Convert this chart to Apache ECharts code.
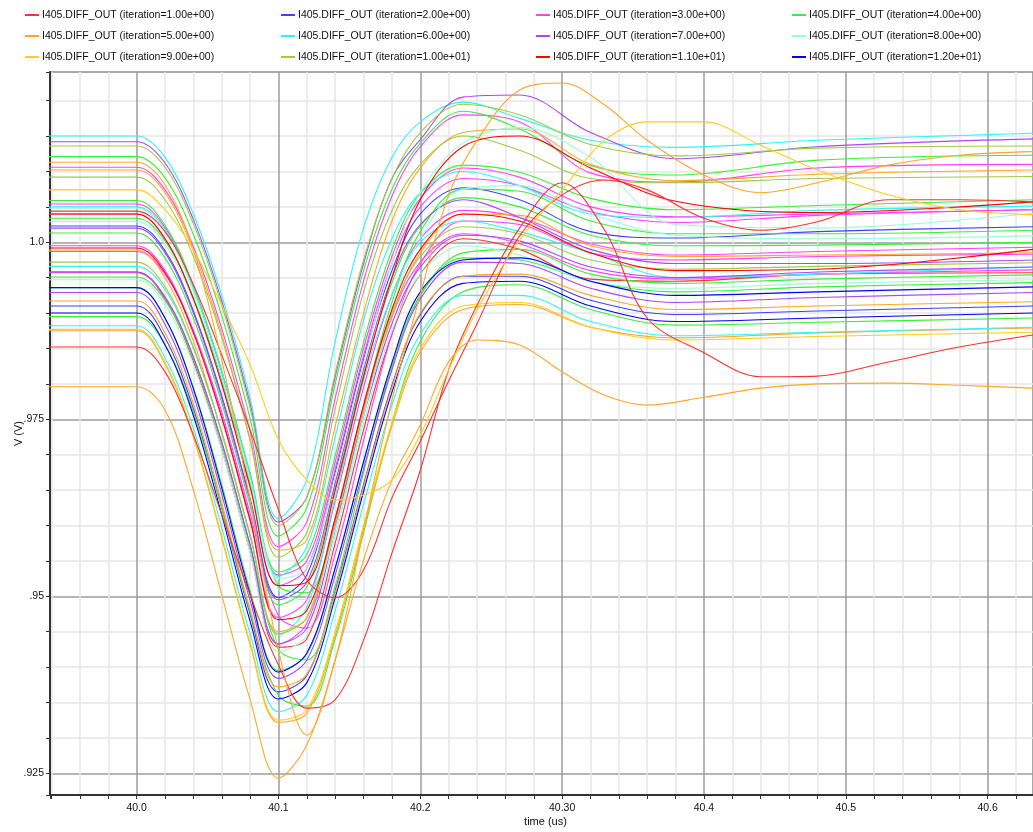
<!DOCTYPE html>
<html><head><meta charset="utf-8">
<script src="https://cdn.jsdelivr.net/npm/echarts@6/dist/echarts.min.js"></script>
<style>html,body{margin:0;padding:0;background:#fff}#c{width:1033px;height:832px}</style>
</head><body><div id="c"></div>
<script>
// ---- time grids (us) ----
const times = [39.938, 40.00, 40.02, 40.04, 40.06, 40.08, 40.10, 40.12, 40.14, 40.16, 40.18, 40.20, 40.23, 40.27, 40.32, 40.38, 40.48, 40.632];
const slowTimes = [39.938, 40.0, 40.02, 40.04, 40.06, 40.08, 40.10, 40.12, 40.14, 40.16, 40.18, 40.20, 40.22, 40.24, 40.27, 40.30, 40.33, 40.36, 40.40, 40.44, 40.48, 40.53, 40.58, 40.632];

// ---- legend / iteration names ----
const iterNames = [
  'I405.DIFF_OUT (iteration=1.00e+00)', 'I405.DIFF_OUT (iteration=2.00e+00)',
  'I405.DIFF_OUT (iteration=3.00e+00)', 'I405.DIFF_OUT (iteration=4.00e+00)',
  'I405.DIFF_OUT (iteration=5.00e+00)', 'I405.DIFF_OUT (iteration=6.00e+00)',
  'I405.DIFF_OUT (iteration=7.00e+00)', 'I405.DIFF_OUT (iteration=8.00e+00)',
  'I405.DIFF_OUT (iteration=9.00e+00)', 'I405.DIFF_OUT (iteration=1.00e+01)',
  'I405.DIFF_OUT (iteration=1.10e+01)', 'I405.DIFF_OUT (iteration=1.20e+01)'
];

// ---- tick labels ----
const xTickValues = [40.0, 40.1, 40.2, 40.3, 40.4, 40.5, 40.6];
const xTickLabels = ['40.0', '40.1', '40.2', '40.30', '40.4', '40.5', '40.6'];
const yTickValues = [0.925, 0.95, 0.975, 1.0];
const yTickLabels = ['.925', '.95', '.975', '1.0'];

// ---- waveforms (V) on "times" ----
const iter01 = [
  [0.9958, 0.9958, 0.9920, 0.9832, 0.9708, 0.9563, 0.9428, 0.9440, 0.9575, 0.9735, 0.9870, 0.9955, 1.0005, 0.9990, 0.9948, 0.9945, 0.9955, 0.9957]
];
const iter02 = [
  [1.0023, 1.0023, 0.9988, 0.9903, 0.9783, 0.9638, 0.9498, 0.9530, 0.9675, 0.9835, 0.9960, 1.0040, 1.0077, 1.0060, 1.0015, 1.0006, 1.0015, 1.0022],
  [0.9910, 0.9910, 0.9865, 0.9765, 0.9625, 0.9475, 0.9365, 0.9388, 0.9508, 0.9658, 0.9798, 0.9898, 0.9952, 0.9952, 0.9918, 0.9898, 0.9903, 0.9910]
];
const iter03 = [
  [1.0106, 1.0106, 1.0074, 0.9994, 0.9878, 0.9733, 0.9570, 0.9605, 0.9780, 0.9945, 1.0065, 1.0135, 1.0180, 1.0170, 1.0098, 1.0085, 1.0105, 1.0110],
  [1.0054, 1.0054, 1.0021, 0.9936, 0.9816, 0.9671, 0.9530, 0.9550, 0.9690, 0.9850, 0.9980, 1.0062, 1.0105, 1.0092, 1.0050, 1.0036, 1.0040, 1.0046],
  [1.0040, 1.0040, 1.0005, 0.9920, 0.9800, 0.9655, 0.9515, 0.9540, 0.9680, 0.9840, 0.9970, 1.0050, 1.0090, 1.0080, 1.0043, 1.0028, 1.0038, 1.0046],
  [0.9995, 0.9995, 0.9960, 0.9875, 0.9755, 0.9610, 0.9470, 0.9495, 0.9635, 0.9795, 0.9925, 1.0005, 1.0045, 1.0035, 0.9998, 0.9982, 0.9987, 0.9993],
  [0.9987, 0.9987, 0.9955, 0.9875, 0.9760, 0.9617, 0.9472, 0.9455, 0.9560, 0.9720, 0.9870, 0.9970, 1.0030, 1.0025, 0.9985, 0.9975, 0.9980, 0.9983],
  [0.9957, 0.9957, 0.9922, 0.9837, 0.9717, 0.9572, 0.9432, 0.9462, 0.9605, 0.9765, 0.9895, 0.9972, 1.0012, 0.9998, 0.9960, 0.9948, 0.9955, 0.9961]
];
const iter04 = [
  [1.0121, 1.0121, 1.0091, 1.0011, 0.9896, 0.9751, 0.9585, 0.9625, 0.9800, 0.9960, 1.0075, 1.0140, 1.0185, 1.0160, 1.0108, 1.0095, 1.0116, 1.0123],
  [1.0059, 1.0059, 1.0024, 0.9939, 0.9819, 0.9674, 0.9534, 0.9559, 0.9699, 0.9859, 0.9989, 1.0069, 1.0109, 1.0099, 1.0062, 1.0046, 1.0052, 1.0060],
  [1.0034, 1.0034, 1.0002, 0.9922, 0.9805, 0.9660, 0.9515, 0.9505, 0.9610, 0.9770, 0.9915, 1.0015, 1.0075, 1.0072, 1.0030, 1.0012, 1.0012, 1.0017],
  [1.0013, 1.0013, 0.9978, 0.9893, 0.9773, 0.9628, 0.9488, 0.9513, 0.9653, 0.9813, 0.9943, 1.0023, 1.0063, 1.0050, 1.0010, 0.9995, 0.9996, 1.0000],
  [0.9951, 0.9951, 0.9918, 0.9835, 0.9715, 0.9570, 0.9425, 0.9410, 0.9515, 0.9675, 0.9825, 0.9925, 0.9985, 0.9990, 0.9955, 0.9942, 0.9948, 0.9954],
  [0.9936, 0.9936, 0.9892, 0.9795, 0.9658, 0.9508, 0.9395, 0.9418, 0.9540, 0.9690, 0.9825, 0.9925, 0.9978, 0.9975, 0.9945, 0.9930, 0.9937, 0.9943],
  [0.9895, 0.9895, 0.9855, 0.9760, 0.9625, 0.9478, 0.9360, 0.9345, 0.9440, 0.9590, 0.9745, 0.9860, 0.9930, 0.9940, 0.9905, 0.9883, 0.9887, 0.9893]
];
const iter05 = [
  [1.0102, 1.0102, 1.0070, 0.9988, 0.9870, 0.9722, 0.9565, 0.9580, 0.9740, 0.9900, 1.0030, 1.0105, 1.0155, 1.0160, 1.0110, 1.0087, 1.0096, 1.0102],
  [0.9989, 0.9989, 0.9950, 0.9860, 0.9730, 0.9585, 0.9450, 0.9470, 0.9600, 0.9760, 0.9895, 0.9985, 1.0040, 1.0038, 0.9995, 0.9980, 0.9982, 0.9985],
  [0.9917, 0.9917, 0.9872, 0.9772, 0.9632, 0.9482, 0.9372, 0.9390, 0.9505, 0.9655, 0.9795, 0.9900, 0.9952, 0.9955, 0.9925, 0.9905, 0.9910, 0.9916],
  [0.9875, 0.9875, 0.9828, 0.9725, 0.9582, 0.9432, 0.9322, 0.9335, 0.9445, 0.9595, 0.9740, 0.9845, 0.9905, 0.9912, 0.9880, 0.9865, 0.9872, 0.9879]
];
const iter06 = [
  [1.0150, 1.0150, 1.0120, 1.0040, 0.9925, 0.9780, 0.9610, 0.9665, 0.9860, 1.0020, 1.0120, 1.0170, 1.0198, 1.0175, 1.0144, 1.0134, 1.0144, 1.0154],
  [1.0050, 1.0050, 1.0018, 0.9935, 0.9818, 0.9670, 0.9528, 0.9570, 0.9725, 0.9890, 1.0005, 1.0070, 1.0100, 1.0080, 1.0040, 1.0035, 1.0045, 1.0051],
  [0.9966, 0.9966, 0.9933, 0.9850, 0.9732, 0.9585, 0.9445, 0.9485, 0.9640, 0.9805, 0.9925, 1.0000, 1.0030, 1.0015, 0.9985, 0.9950, 0.9955, 0.9965],
  [0.9882, 0.9882, 0.9837, 0.9737, 0.9597, 0.9447, 0.9337, 0.9360, 0.9480, 0.9630, 0.9770, 0.9870, 0.9925, 0.9925, 0.9888, 0.9868, 0.9873, 0.9880]
];
const iter07 = [
  [1.0142, 1.0142, 1.0112, 1.0032, 0.9917, 0.9772, 0.9605, 0.9640, 0.9810, 0.9970, 1.0090, 1.0145, 1.0205, 1.0208, 1.0155, 1.0118, 1.0135, 1.0146],
  [1.0020, 1.0020, 0.9985, 0.9900, 0.9780, 0.9635, 0.9495, 0.9520, 0.9660, 0.9820, 0.9950, 1.0025, 1.0060, 1.0035, 0.9990, 0.9970, 0.9970, 0.9975],
  [0.9958, 0.9958, 0.9923, 0.9838, 0.9718, 0.9573, 0.9433, 0.9455, 0.9595, 0.9755, 0.9885, 0.9965, 1.0010, 1.0002, 0.9965, 0.9950, 0.9958, 0.9965],
  [0.9929, 0.9929, 0.9884, 0.9784, 0.9644, 0.9494, 0.9384, 0.9410, 0.9530, 0.9680, 0.9820, 0.9920, 0.9972, 0.9970, 0.9935, 0.9915, 0.9922, 0.9929]
];
const iter08 = [
  [1.0048, 1.0048, 1.0015, 0.9930, 0.9810, 0.9665, 0.9525, 0.9540, 0.9670, 0.9830, 0.9970, 1.0070, 1.0140, 1.0162, 1.0120, 1.0025, 1.0020, 1.0041],
  [1.0029, 1.0029, 0.9997, 0.9917, 0.9800, 0.9657, 0.9510, 0.9495, 0.9595, 0.9755, 0.9905, 1.0005, 1.0075, 1.0080, 1.0040, 1.0010, 1.0005, 1.0009],
  [0.9947, 0.9947, 0.9912, 0.9827, 0.9707, 0.9562, 0.9422, 0.9445, 0.9585, 0.9745, 0.9875, 0.9955, 0.9995, 0.9982, 0.9945, 0.9935, 0.9942, 0.9947]
];
const iter09 = [
  [0.9877, 0.9877, 0.9830, 0.9728, 0.9585, 0.9435, 0.9325, 0.9340, 0.9450, 0.9600, 0.9745, 0.9850, 0.9910, 0.9915, 0.9880, 0.9862, 0.9867, 0.9873]
];
const iter10 = [
  [1.0136, 1.0136, 1.0106, 1.0026, 0.9911, 0.9766, 0.9600, 0.9640, 0.9815, 0.9975, 1.0090, 1.0155, 1.0195, 1.0180, 1.0138, 1.0122, 1.0133, 1.0136],
  [1.0092, 1.0092, 1.0060, 0.9980, 0.9865, 0.9720, 0.9555, 0.9590, 0.9765, 0.9930, 1.0045, 1.0110, 1.0150, 1.0130, 1.0090, 1.0084, 1.0090, 1.0093],
  [0.9972, 0.9972, 0.9937, 0.9852, 0.9732, 0.9587, 0.9447, 0.9470, 0.9610, 0.9770, 0.9900, 0.9980, 1.0022, 1.0012, 0.9975, 0.9962, 0.9966, 0.9971]
];
const iter11 = [
  [1.0040, 1.0040, 1.0005, 0.9920, 0.9800, 0.9655, 0.9515, 0.9520, 0.9650, 0.9810, 0.9950, 1.0060, 1.0135, 1.0150, 1.0105, 1.0058, 1.0042, 1.0057],
  [0.9992, 0.9992, 0.9957, 0.9872, 0.9752, 0.9607, 0.9467, 0.9480, 0.9610, 0.9770, 0.9905, 0.9990, 1.0040, 1.0030, 0.9985, 0.9960, 0.9962, 0.9990]
];
const iter12 = [
  [0.9936, 0.9936, 0.9893, 0.9793, 0.9653, 0.9503, 0.9393, 0.9420, 0.9540, 0.9690, 0.9830, 0.9930, 0.9975, 0.9978, 0.9945, 0.9925, 0.9930, 0.9937],
  [0.9900, 0.9900, 0.9855, 0.9755, 0.9615, 0.9465, 0.9355, 0.9378, 0.9498, 0.9648, 0.9788, 0.9888, 0.9942, 0.9945, 0.9910, 0.9888, 0.9893, 0.9900]
];

// ---- slower / outlying waveforms (V) on "slowTimes" ----
const slowRed    = [0.9852, 0.9852, 0.9817, 0.9728, 0.9615, 0.9502, 0.9403, 0.9342, 0.9354, 0.9438, 0.9561, 0.9678, 0.9820, 0.9911, 1.0020, 1.0084, 1.0017, 0.9893, 0.9844, 0.9810, 0.9811, 0.9831, 0.9852, 0.9869];
const lateRed    = [1.0044, 1.0044, 1.0015, 0.9940, 0.9841, 0.9735, 0.9622, 0.9523, 0.9498, 0.9537, 0.9639, 0.9719, 0.9804, 0.9885, 1.0009, 1.0067, 1.0088, 1.0074, 1.0034, 1.0017, 1.0029, 1.0060, 1.0060, 1.0057];
const slowOrange = [1.0113, 1.0113, 1.0081, 0.9989, 0.9834, 0.9636, 0.9424, 0.9304, 0.9410, 0.9594, 0.9777, 0.9926, 1.0067, 1.0144, 1.0215, 1.0225, 1.0194, 1.0144, 1.0095, 1.0070, 1.0084, 1.0109, 1.0123, 1.0128];
const lowOrange  = [0.9796, 0.9796, 0.9763, 0.9650, 0.9502, 0.9354, 0.9243, 0.9290, 0.9410, 0.9551, 0.9664, 0.9742, 0.9831, 0.9862, 0.9855, 0.9817, 0.9784, 0.9770, 0.9781, 0.9794, 0.9800, 0.9801, 0.9798, 0.9794];
const slowYellow = [1.0074, 1.0074, 1.0046, 0.9989, 0.9911, 0.9827, 0.9721, 0.9664, 0.9636, 0.9643, 0.9664, 0.9728, 0.9820, 0.9904, 1.0003, 1.0074, 1.0144, 1.0170, 1.0170, 1.0137, 1.0102, 1.0067, 1.0046, 1.0039];

// ---- styling ----
const iterColors = ['#ff3030', '#4040ff', '#ff40ff', '#38f038', '#ffa628', '#30f4f4',
                    '#a848f8', '#98fcd8', '#ffcc1a', '#9ccc44', '#ff0000', '#0000ff'];
const FONT = 'Liberation Sans, Arial, sans-serif';

const iterCurves = [iter01, iter02, iter03, iter04, iter05, iter06, iter07, iter08, iter09, iter10, iter11, iter12];
const slowSets = [[0, slowRed], [0, lateRed], [4, slowOrange], [4, lowOrange], [8, slowYellow]];

const series = [];
function addSeries(idx, tArr, vArr) {
  series.push({
    type: 'line', name: iterNames[idx], color: iterColors[idx],
    data: tArr.map((t, k) => [t, vArr[k]]),
    symbol: 'none', showSymbol: false, smooth: 0.35, silent: true,
    lineStyle: { width: 1.1, color: iterColors[idx] }, clip: true, z: 3
  });
}
iterCurves.forEach((curves, i) => curves.forEach(c => addSeries(i, times, c)));
slowSets.forEach(([i, c]) => addSeries(i, slowTimes, c));

function fmt(vals, labels) {
  return v => { for (let i = 0; i < vals.length; i++) if (Math.abs(v - vals[i]) < 1e-6) return labels[i]; return ''; };
}

const legendCols = [25, 281, 536, 792];
const legends = legendCols.map((left, c) => ({
  orient: 'vertical', left: left, top: 9, padding: 0, itemGap: 9, itemWidth: 14, itemHeight: 2,
  icon: 'rect',
  data: [iterNames[c], iterNames[c + 4], iterNames[c + 8]],
  textStyle: { fontFamily: FONT, fontSize: 10.5, color: '#111', lineHeight: 12, padding: [0, 0, 0, -2] },
  selectedMode: false
}));

const axisCommon = {
  type: 'value',
  axisLine: { show: true, onZero: false, lineStyle: { color: '#333', width: 2 } },
  axisTick: { show: true, inside: false, length: 4, lineStyle: { color: '#333', width: 1 } },
  minorTick: { show: true, splitNumber: 5, length: 4, lineStyle: { color: '#333', width: 1 } },
  splitLine: { show: true, showMinLine: false, showMaxLine: false, lineStyle: { color: '#9c9c9c', width: 1.5 } },
  minorSplitLine: { show: true, lineStyle: { color: '#e6e6e6', width: 1.5 } }
};

const option = {
  animation: false,
  backgroundColor: '#ffffff',
  legend: legends,
  grid: { left: 50, top: 72, right: 0, bottom: 37, show: true, borderColor: '#8a8a8a', borderWidth: 1.5,
          containLabel: false, outerBoundsMode: 'none' },
  xAxis: Object.assign({}, axisCommon, {
    min: 39.9389, max: 40.632, minInterval: 0.1, maxInterval: 0.1, splitNumber: 7,
    axisLabel: { formatter: fmt(xTickValues, xTickLabels), fontFamily: FONT, fontSize: 10.5, color: '#111', margin: 8, showMinLabel: false, showMaxLabel: false },
    name: 'time (us)', nameLocation: 'middle', nameGap: 21, nameMoveOverlap: false,
    nameTextStyle: { fontFamily: FONT, fontSize: 11, color: '#111', padding: [0, 0, 0, 8] }
  }),
  yAxis: Object.assign({}, axisCommon, {
    min: 0.92193, max: 1.02405, minInterval: 0.025, maxInterval: 0.025, splitNumber: 4,
    axisLabel: { formatter: fmt(yTickValues, yTickLabels), fontFamily: FONT, fontSize: 10.5, color: '#111', margin: 6, showMinLabel: false, showMaxLabel: false },
    name: 'V (V)', nameLocation: 'middle', nameGap: 26, nameMoveOverlap: false,
    nameTextStyle: { fontFamily: FONT, fontSize: 11, color: '#111' }
  }),
  series: series
};

const chart = echarts.init(document.getElementById('c'), null, { renderer: 'canvas' });
chart.setOption(option);
</script></body></html>
